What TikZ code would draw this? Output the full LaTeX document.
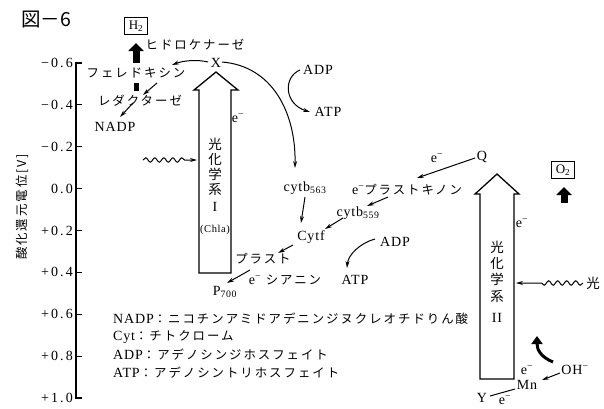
\documentclass[tikz,border=0pt]{standalone}
\usepackage{fontspec}
\setmainfont{Liberation Serif}
\newfontfamily\latf{Liberation Serif}[LetterSpace=6]
\newfontfamily\tickf{Liberation Serif}[LetterSpace=15]
\newfontfamily\jpf{Noto Sans CJK JP}[LetterSpace=16]
\newfontfamily\jpt{Noto Sans CJK JP}
\newcommand\latx[1]{{\latf\fontsize{14}{16}\selectfont #1}}
\usetikzlibrary{arrows.meta,decorations.pathmorphing}
\begin{document}
\begin{tikzpicture}[x=1pt,y=-1pt,
  lt/.style={font=\latf\fontsize{14}{16}\selectfont, inner sep=0pt},
  jt/.style={font=\jpf\fontsize{12.4}{14}\selectfont, inner sep=0pt},
  kt/.style={font=\jpt\fontsize{13.5}{15}\selectfont, inner sep=0pt, align=center},
  tk/.style={font=\tickf\fontsize{14}{16}\selectfont, inner sep=0pt, anchor=east},
  arr/.style={-{Stealth[length=7pt,width=4pt]}, line width=1pt},
  psarrow/.style={draw=black, line width=1.3pt, fill=white, line join=miter},
  fatup/.style={line width=7pt, -{Triangle[length=8pt,width=15pt]}},
  wavy/.style={decorate, decoration={snake, amplitude=2.2pt, segment length=9pt, post length=#1}},
  boxed/.style={draw, line width=0.9pt, inner xsep=4pt, inner ysep=3.5pt, font=\latf\fontsize{13}{15}\selectfont},
]
\useasboundingbox (0,0) rectangle (604,408);
\fill[white] (0,0) rectangle (604,408);

% title
\node[inner sep=0pt, font=\jpt\fontsize{19.5}{22}\selectfont] (title) at (46,20) {図－6};

% axis
\draw[line width=1.1pt] (82,63) -- (76,63) -- (76,398) -- (82,398);
\foreach \i/\t in {0/−0.6,1/−0.4,2/−0.2,3/0.0,4/+0.2,5/+0.4,6/+0.6,7/+0.8,8/+1.0}{
  \node[tk] (tk\i) at (73,63+\i*41.875) {\t};
  \draw[line width=1.1pt] (76,63+\i*41.875) -- (82,63+\i*41.875);
}
\node[jt, rotate=90] (ylab) at (22,207) {酸化還元電位[V]};

% H2 side
\node[boxed] (h2) at (136,26) {H\textsubscript{2}};
\draw[fatup] ([shift={(0,37)}]h2.center) -- ([shift={(0,17)}]h2.center);
\node[jt] (hyd) at (195,45) {ヒドロケナーゼ};
\node[jt] (ferr) at (136,73) {フェレドキシン};
\node[fill=black, minimum width=5pt, minimum height=8pt, inner sep=0pt] (sq) at (136,87) {};
\node[jt] (red) at (140,101) {レダクターゼ};
\node[lt] (nadp) at (115,127) {NADP};
\draw[arr] ([shift={(21,10)}]ferr.center) -- ([shift={(7,22)}]ferr.center);
\draw[arr] ([shift={(-7,2)}]red.center) -- ([shift={(5,-10)}]nadp.center);

% photosystem I
\node[lt] (X) at (216,63) {X};
\draw[psarrow] (199,273) -- (199,90) -- (194,90) -- (216,72) -- (238,90) -- (231,90) -- (231,273) -- cycle;
\node[kt] (ps1t) at (215,166.5) {光\\化\\学\\系};
\node[lt] (ps1n) at (215,207) {I};
\node[inner sep=0pt, font=\latf\fontsize{10.5}{12}\selectfont] (chla) at (215,230) {(Chla)};
\node[lt] (e1) at (238,118) {e\textsuperscript{−}};
\coordinate (w1) at (143,160);
\coordinate (p1in) at (197,160);
\draw[wavy=12pt, -{Stealth[length=7pt,width=4pt]}, line width=1pt] (w1) -- (p1in);

\draw[arr] ([shift={(-8,-1)}]X.center) .. controls (196,59) and (182,61) .. ([shift={(36,-8)}]ferr.center);
\node[lt] (cytb563) at (305,188) {cytb\textsubscript{563}};
\draw[arr] ([shift={(6,-1)}]X.center) .. controls (272,66) and (296,112) .. ([shift={(-10,-20)}]cytb563.center);

\node[lt] (adp1) at (318,70) {ADP};
\node[lt] (atp1) at (328,112) {ATP};
\draw[arr] ([shift={(-18,0)}]adp1.center) .. controls (283,77) and (284,104) .. ([shift={(-18,0)}]atp1.center);

% middle chain
\node[lt] (cytf) at (311,237) {Cytf};
\node[lt] (cytb559) at (358,213) {cytb\textsubscript{559}};
\node[jt] (pq) at (407,190) {\latx{e\textsuperscript{−}}プラストキノン};
\node[lt] (Q) at (482,157) {Q};
\node[lt] (eq) at (437,158) {e\textsuperscript{−}};
\draw[arr] ([shift={(0,9)}]cytb563.center) -- ([shift={(-10,-14)}]cytf.center);
\draw[arr] ([shift={(-15,5)}]cytb559.center) -- ([shift={(14,-8)}]cytf.center);
\draw[arr] ([shift={(-19,7)}]pq.center) -- ([shift={(9,-7)}]cytb559.center);
\draw[arr] ([shift={(-7,1)}]Q.center) -- ([shift={(10,-12)}]pq.center);

\node[jt] (plast) at (263,259) {プラスト};
\node[jt] (cyan) at (285,280) {\latx{e\textsuperscript{−}} シアニン};
\node[lt] (p700) at (225,292) {P\textsubscript{700}};
\draw[arr] ([shift={(-18,8)}]cytf.center) -- ([shift={(15,-6)}]plast.center);
\draw[arr] ([shift={(-35,-10)}]cyan.center) -- ([shift={(2,-9)}]p700.center);

\node[lt] (adp2) at (395,242) {ADP};
\node[lt] (atp2) at (355,280) {ATP};
\draw[arr] ([shift={(-20,-3)}]adp2.center) .. controls (360,243) and (348,255) .. ([shift={(-8,-12)}]atp2.center);

% photosystem II
\draw[psarrow] (480,379) -- (480,194) -- (475,194) -- (497,174) -- (519,194) -- (514,194) -- (514,379) -- cycle;
\node[kt, font=\jpt\fontsize{13.5}{16.3}\selectfont] (ps2t) at (497,271.5) {光\\化\\学\\系};
\node[lt] (ps2n) at (497,318) {II};
\node[lt] (e2) at (522,223) {e\textsuperscript{−}};
\node[boxed] (o2) at (563,170) {O\textsubscript{2}};
\draw[fatup] ([shift={(1,33)}]o2.center) -- ([shift={(1,17)}]o2.center);
\node[kt] (light) at (593,283) {光};
\coordinate (p2in) at (516,283);
\draw[wavy=24pt, -{Stealth[length=7pt,width=4pt]}, line width=1pt] ([shift={(-10,0)}]light.center) -- (p2in);

\node[lt] (oh) at (575,370) {OH\textsuperscript{−}};
\node[lt] (mn) at (527,385) {Mn};
\node[lt] (emn) at (527,370) {e\textsuperscript{−}};
\node[lt] (yy) at (482,398) {Y};
\node[lt] (ey) at (505,400) {e\textsuperscript{−}};
\draw[arr] ([shift={(-15,3)}]oh.center) -- ([shift={(15,-5)}]mn.center);
\draw[line width=1pt] ([shift={(8,-2)}]yy.center) -- ([shift={(-12,4)}]mn.center);
\draw[line width=3pt, -{Triangle[length=8pt,width=11pt]}] ([shift={(-22,-8)}]oh.center) .. controls (541,357) and (537,350) .. ([shift={(10,-49)}]mn.center);

% legend
\node[jt, anchor=west] (lg1) at (113,319) {\latx{NADP}：ニコチンアミドアデニンジヌクレオチドりん酸};
\node[jt, anchor=west] (lg2) at (113,337) {\latx{Cyt}：チトクローム};
\node[jt, anchor=west] (lg3) at (113,355) {\latx{ADP}：アデノシンジホスフェイト};
\node[jt, anchor=west] (lg4) at (113,373) {\latx{ATP}：アデノシントリホスフェイト};
\end{tikzpicture}
\end{document}
